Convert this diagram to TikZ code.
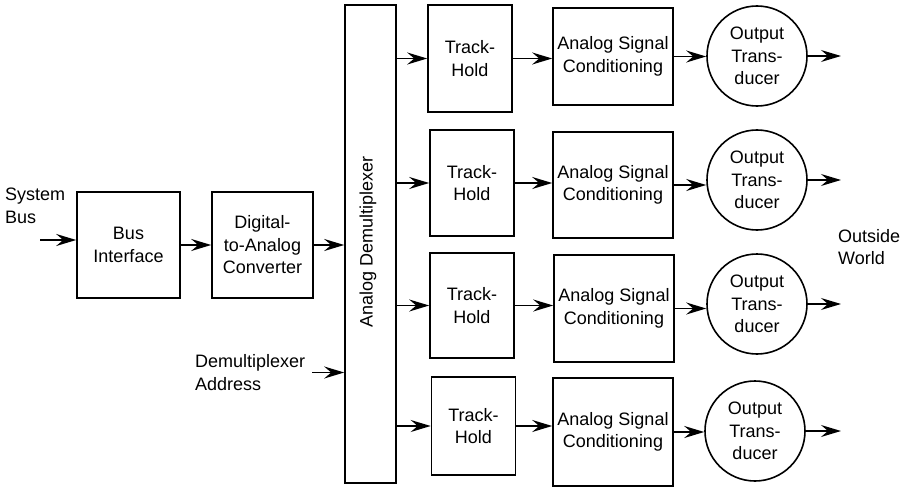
\documentclass[tikz,border=0pt]{standalone}
\usepackage{fontspec}
\setmainfont{Liberation Sans}
\usetikzlibrary{arrows.meta}
\begin{document}
\begin{tikzpicture}[x=1pt,y=-1pt,
  txt/.style={font=\fontsize{18}{22.5}\selectfont},
  box/.style={draw, line width=1.6pt, inner sep=0pt, align=center, txt},
  thbox/.style={box, minimum width=84pt},
  ascbox/.style={box, minimum width=120pt},
  lbl/.style={inner sep=0pt, align=left, txt},
  circ/.style={draw, circle, line width=1.6pt, minimum size=100pt, inner sep=0pt, align=center, txt},
  arr/.style={line width=1.6pt, -{Stealth[length=20pt,width=12pt,inset=7pt]}}]
\useasboundingbox (0,0) rectangle (911,487);

% left part
\node[lbl, anchor=west] (sys) at (5,206) {System\\Bus};
\coordinate (sb) at (40,240);
\node[box, minimum width=103pt, minimum height=106pt] (bi) at (128.5,245) {Bus\\Interface};
\node[box, minimum width=101pt, minimum height=106pt] (dac) at (262.5,245) {Digital-\\to-Analog\\Converter};
\node[box, minimum width=51pt, minimum height=478pt] (dmx) at (370.5,244) {};
\node[lbl, rotate=90] (dmxt) at (368,242) {Analog Demultiplexer};
\node[lbl, anchor=west] (addr) at (195,372.5) {Demultiplexer\\Address};

% track-hold
\node[thbox, minimum height=107pt] (th1) at (470,58.5) {Track-\\Hold};
\node[thbox, minimum height=106pt] (th2) at (472,183) {Track-\\Hold};
\node[thbox, minimum height=105pt] (th3) at (472,305.5) {Track-\\Hold};
\node[thbox, minimum height=98pt] (th4) at (473.5,426) {Track-\\Hold};

% analog signal conditioning
\node[ascbox, minimum height=97pt] (a1) at (613,56.5) {Analog Signal\\Conditioning};
\node[ascbox, minimum height=106pt] (a2) at (613,185) {Analog Signal\\Conditioning};
\node[ascbox, minimum height=107pt] (a3) at (614,308.5) {Analog Signal\\Conditioning};
\node[ascbox, minimum height=108pt] (a4) at (613,432) {Analog Signal\\Conditioning};

% output transducers
\node[circ] (c1) at (757,56) {Output\\Trans-\\ducer};
\node[circ] (c2) at (757,180) {Output\\Trans-\\ducer};
\node[circ] (c3) at (757,304) {Output\\Trans-\\ducer};
\node[circ] (c4) at (755,431) {Output\\Trans-\\ducer};

\coordinate (ow) at (841,0);
\node[lbl, anchor=west] (world) at (838,247) {Outside\\World};

% connectors
\draw[arr] (sb) -- (sb -| bi.west);
\draw[arr] (bi.east) -- (dac.west);
\draw[arr] (dac.east) -- (dac.east -| dmx.west);
\draw[arr] ([xshift=7pt]addr.east) -- (addr.east -| dmx.west);

\foreach \i in {1,2,3,4} {
  \draw[arr] (th\i.west -| dmx.east) -- (th\i.west);
  \draw[arr] (th\i.east) -- (th\i.east -| a\i.west);
  \draw[arr] (a\i.east) -- (a\i.east -| c\i.west);
  \draw[arr] (c\i.east) -- (c\i.east -| ow);
}
\end{tikzpicture}
\end{document}
